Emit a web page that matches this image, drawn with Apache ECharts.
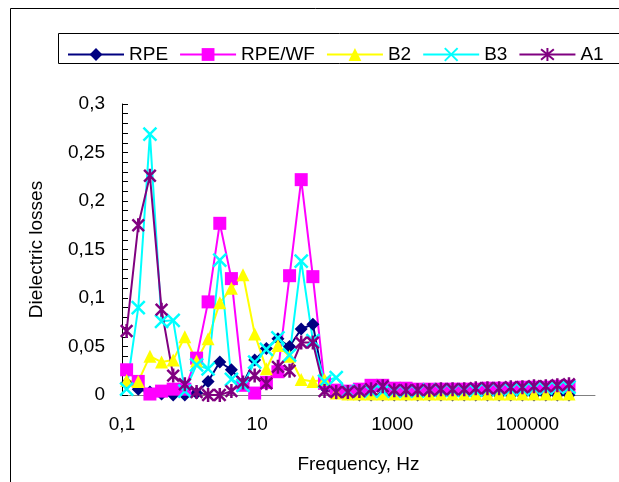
<!DOCTYPE html>
<html><head><meta charset="utf-8">
<script src="https://cdn.jsdelivr.net/npm/echarts@6/dist/echarts.min.js"></script>
<style>html,body{margin:0;padding:0;background:#fff}#c{width:619px;height:482px}</style>
</head><body><div id="c"></div>
<script>
// Frequencies (Hz), evenly spaced on the log scale
const frequencies = [0.117, 0.174, 0.259, 0.385, 0.572, 0.851, 1.27, 1.88, 2.80, 4.16, 6.18, 9.19, 13.7, 20.3, 30.2, 44.9, 66.8, 99.3, 148, 220, 326, 485, 722, 1070, 1600, 2370, 3530, 5250, 7800, 11600, 17200, 25600, 38100, 56700, 84300, 125000, 187000, 277000, 412000];
const seriesNames = ['RPE', 'RPE/WF', 'B2', 'B3', 'A1'];
const rpe   = [0.012, 0.006, 0.003, 0.001, 0.000, 0.000, 0.002, 0.014, 0.034, 0.026, 0.012, 0.036, 0.048, 0.058, 0.050, 0.068, 0.073, 0.008, 0.002, 0.001, 0.000, 0.000, 0.000, 0.000, 0.000, 0.000, 0.000, 0.000, 0.000, 0.000, 0.000, 0.000, 0.000, 0.000, 0.000, 0.000, 0.000, 0.000, 0.000];
const rpeWf = [0.026, 0.014, 0.001, 0.004, 0.006, 0.006, 0.038, 0.096, 0.177, 0.120, 0.010, 0.002, 0.013, 0.024, 0.123, 0.222, 0.122, 0.012, 0.005, 0.004, 0.006, 0.010, 0.010, 0.007, 0.007, 0.006, 0.006, 0.006, 0.006, 0.006, 0.006, 0.007, 0.007, 0.007, 0.008, 0.008, 0.008, 0.009, 0.009];
const b2    = [0.015, 0.014, 0.040, 0.034, 0.036, 0.060, 0.035, 0.058, 0.095, 0.110, 0.124, 0.063, 0.027, 0.051, 0.040, 0.016, 0.014, 0.016, 0.002, 0.001, 0.001, 0.001, 0.001, 0.001, 0.001, 0.001, 0.001, 0.001, 0.001, 0.001, 0.001, 0.001, 0.001, 0.001, 0.001, 0.001, 0.001, 0.001, 0.001];
const b3    = [0.006, 0.090, 0.269, 0.076, 0.077, 0.004, 0.031, 0.027, 0.139, 0.016, 0.010, 0.034, 0.047, 0.059, 0.041, 0.138, 0.056, 0.014, 0.018, 0.004, 0.004, 0.004, 0.004, 0.004, 0.004, 0.004, 0.005, 0.005, 0.005, 0.005, 0.005, 0.006, 0.006, 0.006, 0.006, 0.007, 0.007, 0.008, 0.008];
const a1    = [0.066, 0.175, 0.226, 0.088, 0.020, 0.011, 0.003, 0.000, 0.000, 0.004, 0.013, 0.020, 0.012, 0.029, 0.025, 0.054, 0.054, 0.004, 0.003, 0.003, 0.004, 0.006, 0.009, 0.005, 0.005, 0.005, 0.005, 0.006, 0.006, 0.006, 0.007, 0.007, 0.007, 0.008, 0.008, 0.009, 0.009, 0.010, 0.011];
// x tick labels shown at these decades (log10 of frequency)
const xLabelDecades = [-1, 1, 3, 5];
const xTickLabels = ['0,1', '10', '1000', '100000'];

const FONT = '"Liberation Sans", Arial, sans-serif';
const chart = echarts.init(document.getElementById('c'));

function mk(name, vals, color, symbol, size, stroke) {
  const s = {
    type: 'line', name: name,
    data: frequencies.map((f, i) => [f, vals[i]]),
    symbol: symbol, symbolSize: size, symbolKeepAspect: true, showAllSymbol: true,
    lineStyle: { color: color, width: 2 },
    itemStyle: { color: color },
    emphasis: { disabled: true }
  };
  if (stroke) s.itemStyle = { color: color, borderColor: color, borderWidth: 2.5 };
  return s;
}

const option = {
  animation: false,
  textStyle: { fontFamily: FONT },
  graphic: [
    { type: 'rect', silent: true, shape: { x: 10.5, y: 8.5, width: 700, height: 600 }, style: { fill: null, stroke: '#000', lineWidth: 1 } },
    { type: 'rect', silent: true, shape: { x: 58.5, y: 33.5, width: 700, height: 30 }, style: { fill: null, stroke: '#000', lineWidth: 1 } }
  ],
  legend: {
    left: 62, top: 40, itemWidth: 56, itemHeight: 16, itemGap: 11,
    textStyle: { fontSize: 19, color: '#000', fontFamily: FONT },
    data: seriesNames
  },
  grid: { left: 122, right: 24, top: 104, bottom: 87 },
  xAxis: {
    type: 'log', logBase: 10, min: 0.1, max: 1000000,
    name: 'Frequency, Hz', nameLocation: 'middle', nameGap: 60,
    nameTextStyle: { fontSize: 19, color: '#000', fontFamily: FONT },
    axisLine: { lineStyle: { color: '#808080', width: 1 } },
    axisTick: { show: false }, minorTick: { show: false }, splitLine: { show: false },
    axisLabel: {
      fontSize: 19, color: '#000', margin: 20, fontFamily: FONT,
      formatter: function (v) {
        const d = Math.round(Math.log10(v));
        const k = xLabelDecades.indexOf(d);
        return k >= 0 ? xTickLabels[k] : '';
      }
    }
  },
  yAxis: {
    type: 'value', min: 0, max: 0.3, interval: 0.05,
    name: 'Dielectric losses', nameLocation: 'middle', nameGap: 76,
    nameTextStyle: { fontSize: 19, color: '#000', fontFamily: FONT },
    axisLine: { show: true, lineStyle: { color: '#000', width: 1 } },
    axisTick: { show: true, inside: true, length: 6, lineStyle: { color: '#000' } },
    minorTick: { show: true, splitNumber: 5, length: 6, lineStyle: { color: '#000' } },
    splitLine: { show: false },
    axisLabel: {
      fontSize: 19, color: '#000', margin: 17, fontFamily: FONT,
      formatter: function (v) { return v === 0 ? '0' : String(+v.toFixed(2)).replace('.', ','); }
    }
  },
  series: [
    mk('RPE', rpe, '#000080', 'diamond', 13),
    mk('RPE/WF', rpeWf, '#FF00FF', 'rect', 13),
    mk('B2', b2, '#FFFF00', 'triangle', 13),
    mk('B3', b3, '#00FFFF', 'path://M0 0L10 10M10 0L0 10', 13, true),
    mk('A1', a1, '#800080', 'path://M1 1L11 11M11 1L1 11M6 0L6 12', 14, true)
  ]
};
chart.setOption(option);
</script>
</body></html>
